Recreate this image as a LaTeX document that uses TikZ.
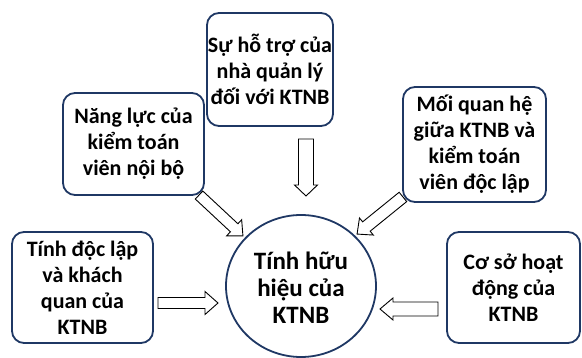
\documentclass[tikz,border=0pt]{standalone}
\usepackage{fontspec}
\setmainfont{Carlito}
\definecolor{navy}{HTML}{1F3864}
\newcommand\blockarrow[8]{%
  \coordinate (#1) at (#2,#3);
  \draw[fatline, shift={(#1)}, rotate=#4]
    ({-#5/2},{-#6/2}) -- ({#5/2-#8},{-#6/2}) -- ({#5/2-#8},{-#7/2}) --
    ({#5/2},0) -- ({#5/2-#8},{#7/2}) -- ({#5/2-#8},{#6/2}) --
    ({-#5/2},{#6/2}) -- cycle;}
\begin{document}
\begin{tikzpicture}[x=1pt,y=-1pt,
  box/.style={draw=navy, line width=1.8pt, rounded corners=12pt, fill=white,
    align=center, font=\fontsize{22}{26}\selectfont\bfseries, inner sep=0pt},
  fatline/.style={draw=black, line width=0.9pt, fill=white, line join=miter}]
\useasboundingbox (0,0) rectangle (582,358);
\fill[white] (0,0) rectangle (582,358);

\node[box, minimum width=126pt, minimum height=113pt] (top) at (270,69.5)
  {Sự hỗ trợ của\\nhà quản lý\\đối với KTNB};
\node[box, minimum width=141pt, minimum height=102pt] (tl) at (133.5,144)
  {Năng lực của\\kiểm toán\\viên nội bộ};
\node[box, minimum width=143pt, minimum height=115pt] (tr) at (474.5,144.5)
  {Mối quan hệ\\giữa KTNB và\\kiểm toán\\viên độc lập};
\node[box, minimum width=141pt, minimum height=111pt] (lb) at (82.5,287.5)
  {Tính độc lập\\và khách\\quan của\\KTNB};
\node[box, minimum width=133pt, minimum height=111pt] (rb) at (513.5,287.5)
  {Cơ sở hoạt\\động của\\KTNB};

\draw[draw=navy, line width=1.8pt, fill=white] (301,286) ellipse [x radius=75, y radius=71];
\node[align=center, font=\fontsize{25}{27}\selectfont\bfseries, inner sep=0pt] (hub) at (301,288)
  {Tính hữu\\hiệu của\\KTNB};

\blockarrow{atop}{306}{167.5}{-90}{57}{15}{23}{11}
\blockarrow{aleft}{188}{303}{0}{60}{11}{23}{13}
\blockarrow{aright}{409}{309}{180}{58}{14}{22}{13}
\blockarrow{adl}{221}{215.5}{-43}{60}{11}{22}{12}
\blockarrow{adr}{380}{215.5}{-141}{59}{12}{22}{12}
\end{tikzpicture}
\end{document}
